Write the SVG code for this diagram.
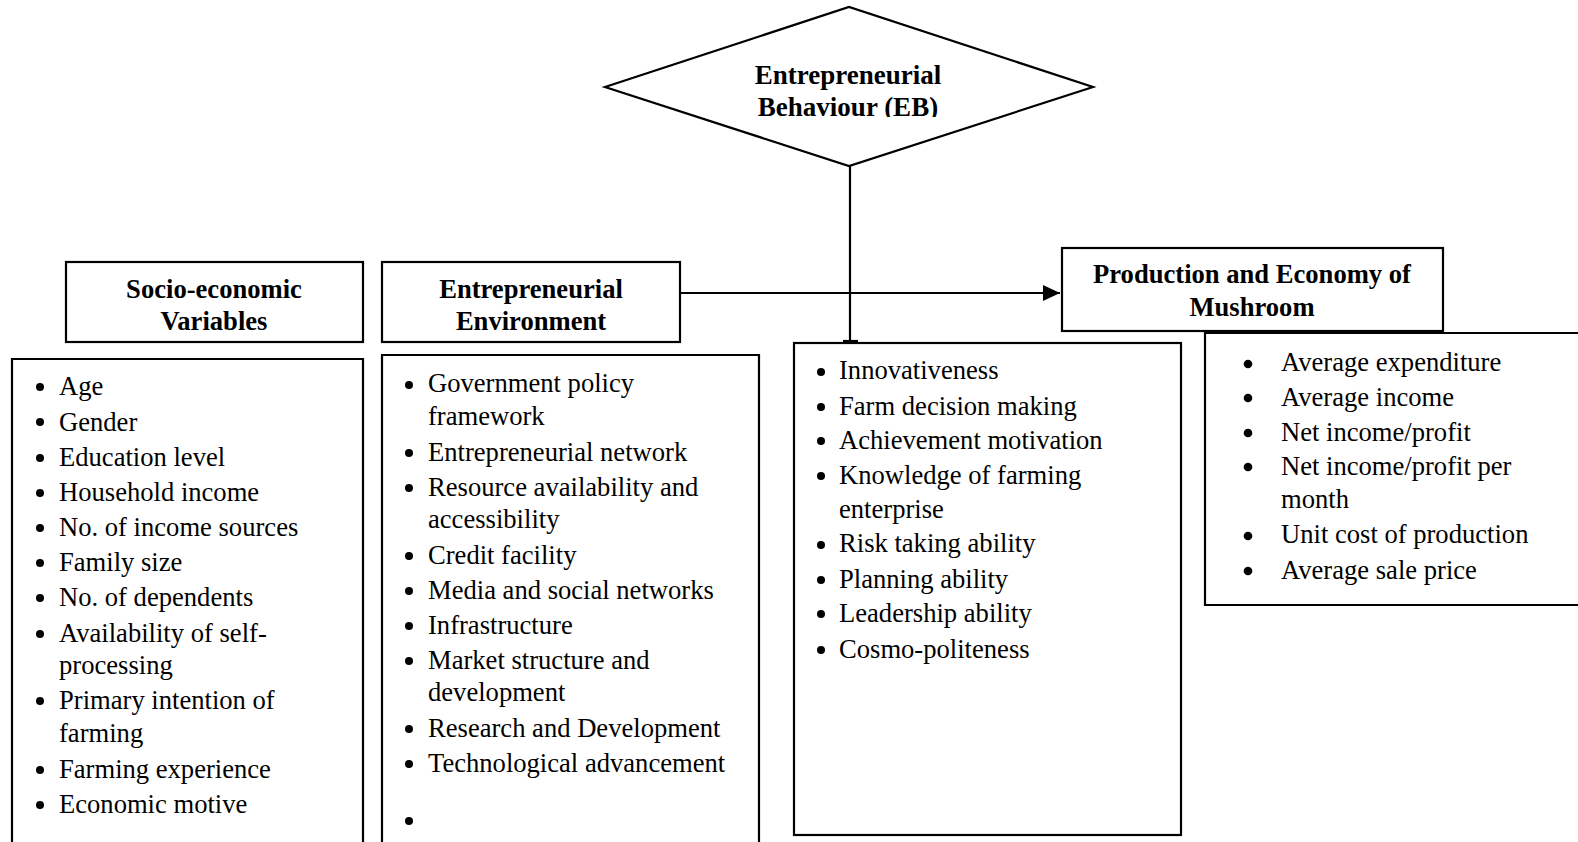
<svg xmlns="http://www.w3.org/2000/svg" width="1578" height="842" viewBox="0 0 1578 842">
  <style>
    .box { fill: #fff; stroke: #000; stroke-width: 2.2; }
    .edge { fill: none; stroke: #000; stroke-width: 2.2; }
    .hd { font-family: "Liberation Serif", "Times New Roman", serif; font-weight: bold; font-size: 26.6px; text-anchor: middle; fill: #000; }
    .hd-eb { font-size: 27px; }
    .it { font-family: "Liberation Serif", "Times New Roman", serif; font-size: 26.6px; fill: #000; }
    .dot { fill: #000; }
  </style>
  <defs>
    <marker id="arrow" markerWidth="18" markerHeight="16" refX="17" refY="8" orient="auto" markerUnits="userSpaceOnUse">
      <path d="M0,0 L17,8 L0,16 Z" fill="#000"/>
    </marker>
    <clipPath id="ebClip"><rect x="600" y="0" width="500" height="117"/></clipPath>
  </defs>
  <rect width="1578" height="842" fill="#fff"/>

  <!-- connectors -->
  <g id="connectors">
    <path class="edge" d="M850,166 L850,341"/>
    <path class="edge" d="M843,341 L858,341"/>
    <path class="edge" d="M680,293 L1060,293" marker-end="url(#arrow)"/>
  </g>

  <!-- central construct -->
  <g id="eb">
    <polygon class="box" points="605,87 849,7 1093,87 849,166"/>
    <g clip-path="url(#ebClip)">
      <text class="hd hd-eb" x="848" y="84">Entrepreneurial</text>
      <text class="hd hd-eb" x="848" y="116">Behaviour (EB)</text>
    </g>
  </g>

  <!-- headers -->
  <g id="socio-header">
    <rect class="box" x="66" y="262" width="297" height="80"/>
    <text class="hd" x="214" y="298">Socio-economic</text>
    <text class="hd" x="214" y="330">Variables</text>
  </g>
  <g id="env-header">
    <rect class="box" x="382" y="262" width="298" height="80"/>
    <text class="hd" x="531" y="298">Entrepreneurial</text>
    <text class="hd" x="531" y="330">Environment</text>
  </g>
  <g id="prod-header">
    <rect class="box" x="1062" y="248" width="381" height="83"/>
    <text class="hd" x="1252" y="283">Production and Economy of</text>
    <text class="hd" x="1252" y="316">Mushroom</text>
  </g>

  <!-- socio-economic variables -->
  <g id="socio-list">
    <path class="edge" d="M12,844 L12,359 L363,359 L363,844"/>
    <g class="dot">
      <circle cx="40" cy="387" r="4"/><circle cx="40" cy="422" r="4"/><circle cx="40" cy="458" r="4"/>
      <circle cx="40" cy="493" r="4"/><circle cx="40" cy="528" r="4"/><circle cx="40" cy="563" r="4"/>
      <circle cx="40" cy="598" r="4"/><circle cx="40" cy="634" r="4"/><circle cx="40" cy="701" r="4"/>
      <circle cx="40" cy="770" r="4"/><circle cx="40" cy="805" r="4"/>
    </g>
    <text class="it" x="59" y="395">Age</text>
    <text class="it" x="59" y="431">Gender</text>
    <text class="it" x="59" y="466">Education level</text>
    <text class="it" x="59" y="501">Household income</text>
    <text class="it" x="59" y="536">No. of income sources</text>
    <text class="it" x="59" y="571">Family size</text>
    <text class="it" x="59" y="606">No. of dependents</text>
    <text class="it" x="59" y="642">Availability of self-</text>
    <text class="it" x="59" y="674">processing</text>
    <text class="it" x="59" y="709">Primary intention of</text>
    <text class="it" x="59" y="742">farming</text>
    <text class="it" x="59" y="778">Farming experience</text>
    <text class="it" x="59" y="813">Economic motive</text>
  </g>

  <!-- entrepreneurial environment -->
  <g id="env-list">
    <path class="edge" d="M382,844 L382,355 L759,355 L759,844"/>
    <g class="dot">
      <circle cx="409" cy="385" r="4"/><circle cx="409" cy="453" r="4"/><circle cx="409" cy="488" r="4"/>
      <circle cx="409" cy="556" r="4"/><circle cx="409" cy="591" r="4"/><circle cx="409" cy="626" r="4"/>
      <circle cx="409" cy="661" r="4"/><circle cx="409" cy="729" r="4"/><circle cx="409" cy="764" r="4"/>
      <circle cx="409" cy="821" r="4"/>
    </g>
    <text class="it" x="428" y="392">Government policy</text>
    <text class="it" x="428" y="425">framework</text>
    <text class="it" x="428" y="461">Entrepreneurial network</text>
    <text class="it" x="428" y="496">Resource availability and</text>
    <text class="it" x="428" y="528">accessibility</text>
    <text class="it" x="428" y="564">Credit facility</text>
    <text class="it" x="428" y="599">Media and social networks</text>
    <text class="it" x="428" y="634">Infrastructure</text>
    <text class="it" x="428" y="669">Market structure and</text>
    <text class="it" x="428" y="701">development</text>
    <text class="it" x="428" y="737">Research and Development</text>
    <text class="it" x="428" y="772">Technological advancement</text>
  </g>

  <!-- entrepreneurial behaviour components -->
  <g id="eb-list">
    <rect class="box" x="794" y="343" width="387" height="492"/>
    <g class="dot">
      <circle cx="821" cy="372" r="4"/><circle cx="821" cy="407" r="4"/><circle cx="821" cy="441" r="4"/>
      <circle cx="821" cy="476" r="4"/><circle cx="821" cy="545" r="4"/><circle cx="821" cy="580" r="4"/>
      <circle cx="821" cy="614" r="4"/><circle cx="821" cy="650" r="4"/>
    </g>
    <text class="it" x="839" y="379">Innovativeness</text>
    <text class="it" x="839" y="415">Farm decision making</text>
    <text class="it" x="839" y="449">Achievement motivation</text>
    <text class="it" x="839" y="484">Knowledge of farming</text>
    <text class="it" x="839" y="518">enterprise</text>
    <text class="it" x="839" y="552">Risk taking ability</text>
    <text class="it" x="839" y="588">Planning ability</text>
    <text class="it" x="839" y="622">Leadership ability</text>
    <text class="it" x="839" y="658">Cosmo-politeness</text>
  </g>

  <!-- production and economy indicators -->
  <g id="prod-list">
    <path class="edge" d="M1580,333 L1205,333 L1205,605 L1580,605"/>
    <g class="dot">
      <circle cx="1248" cy="364" r="4.3"/><circle cx="1248" cy="398" r="4.3"/><circle cx="1248" cy="433" r="4.3"/>
      <circle cx="1248" cy="467" r="4.3"/><circle cx="1248" cy="536" r="4.3"/><circle cx="1248" cy="571" r="4.3"/>
    </g>
    <text class="it" x="1281" y="371">Average expenditure</text>
    <text class="it" x="1281" y="406">Average income</text>
    <text class="it" x="1281" y="441">Net income/profit</text>
    <text class="it" x="1281" y="475">Net income/profit per</text>
    <text class="it" x="1281" y="508">month</text>
    <text class="it" x="1281" y="543">Unit cost of production</text>
    <text class="it" x="1281" y="579">Average sale price</text>
  </g>
</svg>
